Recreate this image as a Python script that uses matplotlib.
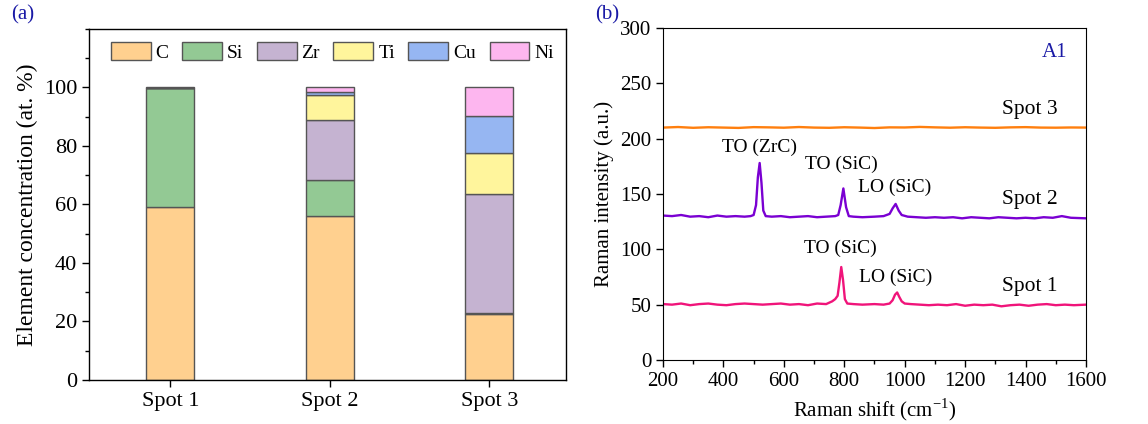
import numpy as np
import matplotlib
matplotlib.use("Agg")
import matplotlib.pyplot as plt
from matplotlib.ticker import MultipleLocator

plt.rcParams['font.family'] = ['Liberation Serif', 'DejaVu Serif']
plt.rcParams['mathtext.fontset'] = 'custom'
plt.rcParams['mathtext.rm'] = 'Liberation Serif'

# ---- panel (a) data: element concentration (at. %)
spots = ['Spot 1', 'Spot 2', 'Spot 3']
elements = ['C', 'Si', 'Zr', 'Ti', 'Cu', 'Ni']
conc_C = [59.0, 56.0, 22.6]
conc_Si = [40.7, 12.5, 0.4]
conc_Zr = [0.1, 20.5, 40.7]
conc_Ti = [0.1, 8.3, 14.0]
conc_Cu = [0.05, 1.3, 12.5]
conc_Ni = [0.05, 1.4, 9.8]
elem_colors = ['#FFD08F', '#93C994', '#C5B3D1', '#FFF59C', '#96B6F2', '#FDB6EF']

# ---- panel (b) data: Raman spectra
x_spot1 = [200, 230, 260, 290, 320, 350, 380, 410, 440, 470,
           500, 530, 560, 590, 620, 650, 680, 710, 740, 760,
           770, 778, 784, 790, 796, 802, 810, 830, 860, 900,
           930, 950, 960, 968, 975, 982, 990, 1000, 1020, 1050,
           1080, 1110, 1140, 1170, 1200, 1230, 1260, 1290, 1320, 1350,
           1380, 1410, 1440, 1470, 1500, 1530, 1560, 1600]
y_spot1 = [50.5, 50.0, 51.0, 49.5, 50.5, 51.0, 50.0, 49.5, 50.5, 51.0,
           50.5, 50.0, 50.5, 51.0, 50.0, 50.5, 49.5, 51.0, 50.5, 53.0,
           55.0, 58.0, 70.0, 84.0, 72.0, 55.0, 51.0, 50.5, 50.0, 50.5,
           50.0, 51.0, 54.0, 59.0, 61.0, 57.0, 53.0, 51.0, 50.5, 50.0,
           49.5, 50.0, 49.5, 50.5, 49.0, 50.0, 49.5, 50.0, 48.5, 49.5,
           50.0, 49.0, 50.0, 50.5, 49.5, 50.0, 49.5, 50.0]

x_spot2 = [200, 230, 260, 290, 320, 350, 380, 410, 440, 470,
           490, 500, 508, 514, 520, 526, 532, 540, 560, 590,
           620, 650, 680, 710, 740, 770, 780, 788, 797, 806,
           815, 830, 860, 900, 930, 950, 960, 970, 980, 990,
           1010, 1040, 1070, 1100, 1130, 1160, 1190, 1220, 1250, 1280,
           1310, 1340, 1370, 1400, 1430, 1460, 1490, 1520, 1550, 1600]
y_spot2 = [130.5, 130.0, 131.0, 129.5, 130.0, 129.0, 130.5, 129.5, 130.0, 129.5,
           130.0, 131.0, 140.0, 165.0, 178.0, 160.0, 135.0, 130.0, 129.5, 130.0,
           129.0, 129.5, 130.0, 129.0, 129.5, 130.0, 131.0, 140.0, 155.0, 138.0,
           130.0, 129.5, 129.0, 129.5, 130.0, 132.0, 137.0, 141.0, 135.0, 131.0,
           129.5, 129.0, 128.5, 129.0, 128.5, 129.0, 128.0, 129.0, 128.5, 128.0,
           129.0, 128.5, 128.0, 128.5, 128.0, 129.0, 128.5, 130.0, 128.5, 128.0]

x_spot3 = [200, 250, 300, 350, 400, 450, 500, 550, 600, 650,
           700, 750, 800, 850, 900, 950, 1000, 1050, 1100, 1150,
           1200, 1250, 1300, 1350, 1400, 1450, 1500, 1550, 1600]
y_spot3 = [210.0, 210.5, 209.8, 210.3, 210.0, 209.7, 210.4, 210.2, 209.9, 210.5,
           210.0, 209.8, 210.3, 210.0, 209.6, 210.2, 210.1, 210.6, 210.2, 209.9,
           210.3, 210.0, 209.8, 210.2, 210.4, 210.0, 209.9, 210.1, 210.0]

fig = plt.figure(figsize=(11.48, 4.24), dpi=100)

# ---------------- (a)
ax1 = fig.add_axes([0.0775, 0.1038, 0.4155, 0.8278])
pos = np.arange(1, len(spots) + 1)
stack = [conc_C, conc_Si, conc_Zr, conc_Ti, conc_Cu, conc_Ni]
bottom = np.zeros(len(spots))
for name, vals, col in zip(elements, stack, elem_colors):
    ax1.bar(pos, vals, 0.3, bottom=bottom, color=col, edgecolor='#555555',
            linewidth=1.0, label=name)
    bottom += np.array(vals)
ax1.set_xlim(0.49, 3.48)
ax1.set_ylim(0, 120)
ax1.set_yticks([0, 20, 40, 60, 80, 100])
ax1.yaxis.set_minor_locator(MultipleLocator(10))
ax1.set_xticks(pos)
ax1.set_xticklabels(spots)
ax1.set_ylabel('Element concentration (at. %)', fontsize=17)
ax1.tick_params(axis='both', direction='out', labelsize=16, length=5, width=1)
ax1.tick_params(axis='y', which='minor', direction='out', length=3, width=1)
ax1.legend(loc='center', ncol=6, frameon=False, fontsize=14,
           handlelength=2.05, handleheight=1.05, handletextpad=0.25,
           columnspacing=0.7, borderaxespad=0, bbox_to_anchor=(0.51, 0.934))
for s in ax1.spines.values():
    s.set_linewidth(1.0)
fig.text(0.010, 0.955, '(a)', color='#1a1aa6', fontsize=15)

# ---------------- (b)
ax2 = fig.add_axes([0.5775, 0.151, 0.3685, 0.783])
ax2.plot(x_spot1, y_spot1, color='#F0147A', lw=1.7)
ax2.plot(x_spot2, y_spot2, color='#7A00D2', lw=1.7)
ax2.plot(x_spot3, y_spot3, color='#FF7F0E', lw=1.7)
ax2.set_xlim(200, 1600)
ax2.set_ylim(0, 300)
ax2.xaxis.set_major_locator(MultipleLocator(200))
ax2.xaxis.set_minor_locator(MultipleLocator(100))
ax2.yaxis.set_major_locator(MultipleLocator(50))
ax2.set_xlabel('Raman shift (cm$^{-1}$)', fontsize=15)
ax2.set_ylabel('Raman intensity (a.u.)', fontsize=15)
ax2.tick_params(axis='both', direction='out', labelsize=15, length=5, width=1)
ax2.tick_params(axis='x', which='minor', direction='out', length=3, width=1)

ann = [('TO (ZrC)', 520, 192), ('TO (SiC)', 792, 177), ('LO (SiC)', 968, 156),
       ('TO (SiC)', 786, 101), ('LO (SiC)', 970, 75)]
for t, xx, yy in ann:
    ax2.text(xx, yy, t, ha='center', va='center', fontsize=14)
for t, yy in [('Spot 3', 226), ('Spot 2', 145), ('Spot 1', 66)]:
    ax2.text(1415, yy, t, ha='center', va='center', fontsize=15.5)
ax2.text(0.955, 0.955, 'A1', transform=ax2.transAxes, ha='right', va='top',
         color='#1a1aa6', fontsize=15,
         bbox=dict(facecolor='white', edgecolor='none', pad=4))
fig.text(0.518, 0.955, '(b)', color='#1a1aa6', fontsize=15)

fig.savefig('out.png', dpi=100)
